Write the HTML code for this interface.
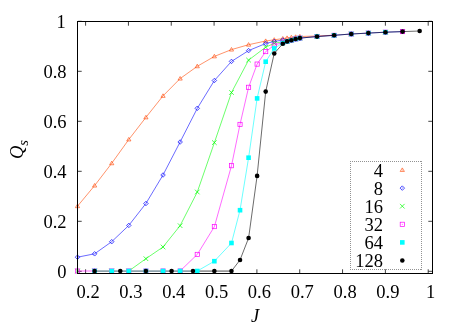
<!DOCTYPE html>
<html><head><meta charset="utf-8"><style>
html,body{margin:0;padding:0;background:#fff;}
body{width:463px;height:324px;overflow:hidden;position:relative;font-family:"Liberation Serif",serif;}
svg{position:absolute;left:0;top:0;will-change:transform;}
text{font-family:"Liberation Serif",serif;font-size:18.5px;fill:#000;}
</style></head><body>
<svg width="463" height="324" viewBox="0 0 463 324">
<rect width="463" height="324" fill="#fff"/>
<path d="M85.60 273V269.3M85.60 22V25.7" stroke="#000" stroke-width="1" stroke-opacity="0.75"/>
<path d="M128.43 273V269.3M128.43 22V25.7" stroke="#000" stroke-width="1" stroke-opacity="0.75"/>
<path d="M171.25 273V269.3M171.25 22V25.7" stroke="#000" stroke-width="1" stroke-opacity="0.75"/>
<path d="M214.08 273V269.3M214.08 22V25.7" stroke="#000" stroke-width="1" stroke-opacity="0.75"/>
<path d="M256.90 273V269.3M256.90 22V25.7" stroke="#000" stroke-width="1" stroke-opacity="0.75"/>
<path d="M299.73 273V269.3M299.73 22V25.7" stroke="#000" stroke-width="1" stroke-opacity="0.75"/>
<path d="M342.55 273V269.3M342.55 22V25.7" stroke="#000" stroke-width="1" stroke-opacity="0.75"/>
<path d="M385.38 273V269.3M385.38 22V25.7" stroke="#000" stroke-width="1" stroke-opacity="0.75"/>
<path d="M428.20 273V269.3M428.20 22V25.7" stroke="#000" stroke-width="1" stroke-opacity="0.75"/>
<path d="M78 271.30H81.7M432 271.30H428.3" stroke="#000" stroke-width="1" stroke-opacity="0.75"/>
<path d="M78 221.30H81.7M432 221.30H428.3" stroke="#000" stroke-width="1" stroke-opacity="0.75"/>
<path d="M78 171.30H81.7M432 171.30H428.3" stroke="#000" stroke-width="1" stroke-opacity="0.75"/>
<path d="M78 121.30H81.7M432 121.30H428.3" stroke="#000" stroke-width="1" stroke-opacity="0.75"/>
<path d="M78 71.30H81.7M432 71.30H428.3" stroke="#000" stroke-width="1" stroke-opacity="0.75"/>
<path d="M78 21.30H81.7M432 21.30H428.3" stroke="#000" stroke-width="1" stroke-opacity="0.75"/>
<polyline points="77.5,206.2 94.6,185.6 111.7,163.3 128.8,139.5 145.9,117.4 163.0,95.9 180.1,78.6 197.3,66.3 214.4,56.4 231.5,49.6 248.6,44.7 265.7,41.0 274.2,39.8 282.8,38.6 287.1,38.0 291.4,37.4 295.6,36.9 299.9,36.5 317.0,36.0 334.1,35.2" fill="none" stroke="#ff4500" stroke-width="1.0" stroke-opacity="0.58" stroke-linejoin="round"/>
<path d="M77.50 204.10L79.60 207.65L75.40 207.65Z" fill="none" stroke="#ff4500" stroke-width="0.62"/>
<path d="M94.61 183.50L96.71 187.05L92.51 187.05Z" fill="none" stroke="#ff4500" stroke-width="0.62"/>
<path d="M111.72 161.20L113.82 164.75L109.62 164.75Z" fill="none" stroke="#ff4500" stroke-width="0.62"/>
<path d="M128.82 137.40L130.92 140.95L126.72 140.95Z" fill="none" stroke="#ff4500" stroke-width="0.62"/>
<path d="M145.93 115.30L148.03 118.85L143.83 118.85Z" fill="none" stroke="#ff4500" stroke-width="0.62"/>
<path d="M163.04 93.80L165.14 97.35L160.94 97.35Z" fill="none" stroke="#ff4500" stroke-width="0.62"/>
<path d="M180.15 76.50L182.25 80.05L178.05 80.05Z" fill="none" stroke="#ff4500" stroke-width="0.62"/>
<path d="M197.26 64.20L199.36 67.75L195.16 67.75Z" fill="none" stroke="#ff4500" stroke-width="0.62"/>
<path d="M214.36 54.30L216.46 57.85L212.26 57.85Z" fill="none" stroke="#ff4500" stroke-width="0.62"/>
<path d="M231.47 47.50L233.57 51.05L229.37 51.05Z" fill="none" stroke="#ff4500" stroke-width="0.62"/>
<path d="M248.58 42.60L250.68 46.15L246.48 46.15Z" fill="none" stroke="#ff4500" stroke-width="0.62"/>
<path d="M265.69 38.90L267.79 42.45L263.59 42.45Z" fill="none" stroke="#ff4500" stroke-width="0.62"/>
<path d="M274.24 37.70L276.34 41.25L272.14 41.25Z" fill="none" stroke="#ff4500" stroke-width="0.62"/>
<path d="M282.80 36.50L284.90 40.05L280.70 40.05Z" fill="none" stroke="#ff4500" stroke-width="0.62"/>
<path d="M287.07 35.90L289.17 39.45L284.97 39.45Z" fill="none" stroke="#ff4500" stroke-width="0.62"/>
<path d="M291.35 35.30L293.45 38.85L289.25 38.85Z" fill="none" stroke="#ff4500" stroke-width="0.62"/>
<path d="M295.63 34.80L297.73 38.35L293.53 38.35Z" fill="none" stroke="#ff4500" stroke-width="0.62"/>
<path d="M299.90 34.40L302.00 37.95L297.80 37.95Z" fill="none" stroke="#ff4500" stroke-width="0.62"/>
<path d="M317.01 33.90L319.11 37.45L314.91 37.45Z" fill="none" stroke="#ff4500" stroke-width="0.62"/>
<path d="M334.12 33.10L336.22 36.65L332.02 36.65Z" fill="none" stroke="#ff4500" stroke-width="0.62"/>
<path d="M351.23 31.90L353.33 35.45L349.13 35.45Z" fill="none" stroke="#ff4500" stroke-width="0.62"/>
<path d="M368.34 31.00L370.44 34.55L366.24 34.55Z" fill="none" stroke="#ff4500" stroke-width="0.62"/>
<path d="M385.44 30.10L387.54 33.65L383.34 33.65Z" fill="none" stroke="#ff4500" stroke-width="0.62"/>
<path d="M402.55 29.50L404.65 33.05L400.45 33.05Z" fill="none" stroke="#ff4500" stroke-width="0.62"/>
<polyline points="77.5,257.2 94.6,253.8 111.7,241.7 128.8,225.4 145.9,203.5 163.0,175.0 180.1,142.0 197.3,108.3 214.4,80.5 231.5,61.4 248.6,50.6 265.7,43.5 274.2,41.5 282.8,40.0 287.1,41.4 291.4,40.2 295.6,39.0 299.9,38.1 317.0,36.5 334.1,35.3 351.2,34.0 368.3,33.1 385.4,32.2 402.6,31.6" fill="none" stroke="#0000ff" stroke-width="1.0" stroke-opacity="0.58" stroke-linejoin="round"/>
<path d="M77.50 254.95L79.75 257.20L77.50 259.45L75.25 257.20Z" fill="none" stroke="#0000ff" stroke-width="0.7"/>
<path d="M94.61 251.55L96.86 253.80L94.61 256.05L92.36 253.80Z" fill="none" stroke="#0000ff" stroke-width="0.7"/>
<path d="M111.72 239.45L113.97 241.70L111.72 243.95L109.47 241.70Z" fill="none" stroke="#0000ff" stroke-width="0.7"/>
<path d="M128.82 223.15L131.07 225.40L128.82 227.65L126.57 225.40Z" fill="none" stroke="#0000ff" stroke-width="0.7"/>
<path d="M145.93 201.25L148.18 203.50L145.93 205.75L143.68 203.50Z" fill="none" stroke="#0000ff" stroke-width="0.7"/>
<path d="M163.04 172.75L165.29 175.00L163.04 177.25L160.79 175.00Z" fill="none" stroke="#0000ff" stroke-width="0.7"/>
<path d="M180.15 139.75L182.40 142.00L180.15 144.25L177.90 142.00Z" fill="none" stroke="#0000ff" stroke-width="0.7"/>
<path d="M197.26 106.05L199.51 108.30L197.26 110.55L195.01 108.30Z" fill="none" stroke="#0000ff" stroke-width="0.7"/>
<path d="M214.36 78.25L216.61 80.50L214.36 82.75L212.11 80.50Z" fill="none" stroke="#0000ff" stroke-width="0.7"/>
<path d="M231.47 59.15L233.72 61.40L231.47 63.65L229.22 61.40Z" fill="none" stroke="#0000ff" stroke-width="0.7"/>
<path d="M248.58 48.35L250.83 50.60L248.58 52.85L246.33 50.60Z" fill="none" stroke="#0000ff" stroke-width="0.7"/>
<path d="M265.69 41.25L267.94 43.50L265.69 45.75L263.44 43.50Z" fill="none" stroke="#0000ff" stroke-width="0.7"/>
<path d="M274.24 39.25L276.49 41.50L274.24 43.75L271.99 41.50Z" fill="none" stroke="#0000ff" stroke-width="0.7"/>
<path d="M282.80 37.75L285.05 40.00L282.80 42.25L280.55 40.00Z" fill="none" stroke="#0000ff" stroke-width="0.7"/>
<path d="M287.07 39.15L289.32 41.40L287.07 43.65L284.82 41.40Z" fill="none" stroke="#0000ff" stroke-width="0.7"/>
<path d="M291.35 37.95L293.60 40.20L291.35 42.45L289.10 40.20Z" fill="none" stroke="#0000ff" stroke-width="0.7"/>
<path d="M295.63 36.75L297.88 39.00L295.63 41.25L293.38 39.00Z" fill="none" stroke="#0000ff" stroke-width="0.7"/>
<path d="M299.90 35.85L302.15 38.10L299.90 40.35L297.65 38.10Z" fill="none" stroke="#0000ff" stroke-width="0.7"/>
<path d="M317.01 34.25L319.26 36.50L317.01 38.75L314.76 36.50Z" fill="none" stroke="#0000ff" stroke-width="0.7"/>
<path d="M334.12 33.05L336.37 35.30L334.12 37.55L331.87 35.30Z" fill="none" stroke="#0000ff" stroke-width="0.7"/>
<path d="M351.23 31.75L353.48 34.00L351.23 36.25L348.98 34.00Z" fill="none" stroke="#0000ff" stroke-width="0.7"/>
<path d="M368.34 30.85L370.59 33.10L368.34 35.35L366.09 33.10Z" fill="none" stroke="#0000ff" stroke-width="0.7"/>
<path d="M385.44 29.95L387.69 32.20L385.44 34.45L383.19 32.20Z" fill="none" stroke="#0000ff" stroke-width="0.7"/>
<path d="M402.55 29.35L404.80 31.60L402.55 33.85L400.30 31.60Z" fill="none" stroke="#0000ff" stroke-width="0.7"/>
<polyline points="128.8,271.0 145.9,258.7 163.0,247.0 180.1,225.7 197.3,192.0 214.4,142.6 231.5,92.5 248.6,60.1 265.7,47.2 274.2,43.3 282.8,41.8 287.1,41.4 291.4,40.2 295.6,39.0 299.9,38.1" fill="none" stroke="#00ff00" stroke-width="1.0" stroke-opacity="0.58" stroke-linejoin="round"/>
<path d="M75.20 268.70L79.80 273.30M75.20 273.30L79.80 268.70" fill="none" stroke="#00ff00" stroke-width="0.7"/>
<path d="M92.31 268.70L96.91 273.30M92.31 273.30L96.91 268.70" fill="none" stroke="#00ff00" stroke-width="0.7"/>
<path d="M109.42 268.70L114.02 273.30M109.42 273.30L114.02 268.70" fill="none" stroke="#00ff00" stroke-width="0.7"/>
<path d="M126.52 268.70L131.12 273.30M126.52 273.30L131.12 268.70" fill="none" stroke="#00ff00" stroke-width="0.7"/>
<path d="M143.63 256.40L148.23 261.00M143.63 261.00L148.23 256.40" fill="none" stroke="#00ff00" stroke-width="0.7"/>
<path d="M160.74 244.70L165.34 249.30M160.74 249.30L165.34 244.70" fill="none" stroke="#00ff00" stroke-width="0.7"/>
<path d="M177.85 223.40L182.45 228.00M177.85 228.00L182.45 223.40" fill="none" stroke="#00ff00" stroke-width="0.7"/>
<path d="M194.96 189.70L199.56 194.30M194.96 194.30L199.56 189.70" fill="none" stroke="#00ff00" stroke-width="0.7"/>
<path d="M212.06 140.30L216.66 144.90M212.06 144.90L216.66 140.30" fill="none" stroke="#00ff00" stroke-width="0.7"/>
<path d="M229.17 90.20L233.77 94.80M229.17 94.80L233.77 90.20" fill="none" stroke="#00ff00" stroke-width="0.7"/>
<path d="M246.28 57.80L250.88 62.40M246.28 62.40L250.88 57.80" fill="none" stroke="#00ff00" stroke-width="0.7"/>
<path d="M263.39 44.90L267.99 49.50M263.39 49.50L267.99 44.90" fill="none" stroke="#00ff00" stroke-width="0.7"/>
<path d="M271.94 41.00L276.54 45.60M271.94 45.60L276.54 41.00" fill="none" stroke="#00ff00" stroke-width="0.7"/>
<path d="M280.50 39.50L285.10 44.10M280.50 44.10L285.10 39.50" fill="none" stroke="#00ff00" stroke-width="0.7"/>
<path d="M284.77 39.10L289.37 43.70M284.77 43.70L289.37 39.10" fill="none" stroke="#00ff00" stroke-width="0.7"/>
<path d="M289.05 37.90L293.65 42.50M289.05 42.50L293.65 37.90" fill="none" stroke="#00ff00" stroke-width="0.7"/>
<path d="M293.33 36.70L297.93 41.30M293.33 41.30L297.93 36.70" fill="none" stroke="#00ff00" stroke-width="0.7"/>
<path d="M297.60 35.80L302.20 40.40M297.60 40.40L302.20 35.80" fill="none" stroke="#00ff00" stroke-width="0.7"/>
<path d="M314.71 34.20L319.31 38.80M314.71 38.80L319.31 34.20" fill="none" stroke="#00ff00" stroke-width="0.7"/>
<path d="M331.82 33.00L336.42 37.60M331.82 37.60L336.42 33.00" fill="none" stroke="#00ff00" stroke-width="0.7"/>
<path d="M348.93 31.70L353.53 36.30M348.93 36.30L353.53 31.70" fill="none" stroke="#00ff00" stroke-width="0.7"/>
<path d="M366.04 30.80L370.64 35.40M366.04 35.40L370.64 30.80" fill="none" stroke="#00ff00" stroke-width="0.7"/>
<path d="M383.14 29.90L387.74 34.50M383.14 34.50L387.74 29.90" fill="none" stroke="#00ff00" stroke-width="0.7"/>
<path d="M400.25 29.30L404.85 33.90M400.25 33.90L404.85 29.30" fill="none" stroke="#00ff00" stroke-width="0.7"/>
<path d="M77.5 271H94.6" stroke="#ff00ff" stroke-width="1.0" stroke-opacity="0.58"/>
<polyline points="180.1,271.0 197.3,254.4 214.4,226.6 231.5,165.7 240.0,124.4 248.6,87.3 257.1,64.1 265.7,51.6 274.2,45.3 282.8,42.3 287.1,41.4 291.4,40.2 295.6,39.0 299.9,38.1" fill="none" stroke="#ff00ff" stroke-width="1.0" stroke-opacity="0.58" stroke-linejoin="round"/>
<rect x="75.40" y="268.90" width="4.20" height="4.20" fill="none" stroke="#ff00ff" stroke-width="0.7"/>
<rect x="92.51" y="268.90" width="4.20" height="4.20" fill="none" stroke="#ff00ff" stroke-width="0.7"/>
<rect x="109.62" y="268.90" width="4.20" height="4.20" fill="none" stroke="#ff00ff" stroke-width="0.7"/>
<rect x="126.72" y="268.90" width="4.20" height="4.20" fill="none" stroke="#ff00ff" stroke-width="0.7"/>
<rect x="143.83" y="268.90" width="4.20" height="4.20" fill="none" stroke="#ff00ff" stroke-width="0.7"/>
<rect x="160.94" y="268.90" width="4.20" height="4.20" fill="none" stroke="#ff00ff" stroke-width="0.7"/>
<rect x="178.05" y="268.90" width="4.20" height="4.20" fill="none" stroke="#ff00ff" stroke-width="0.7"/>
<rect x="195.16" y="252.30" width="4.20" height="4.20" fill="none" stroke="#ff00ff" stroke-width="0.7"/>
<rect x="212.26" y="224.50" width="4.20" height="4.20" fill="none" stroke="#ff00ff" stroke-width="0.7"/>
<rect x="229.37" y="163.60" width="4.20" height="4.20" fill="none" stroke="#ff00ff" stroke-width="0.7"/>
<rect x="237.93" y="122.30" width="4.20" height="4.20" fill="none" stroke="#ff00ff" stroke-width="0.7"/>
<rect x="246.48" y="85.20" width="4.20" height="4.20" fill="none" stroke="#ff00ff" stroke-width="0.7"/>
<rect x="255.03" y="62.00" width="4.20" height="4.20" fill="none" stroke="#ff00ff" stroke-width="0.7"/>
<rect x="263.59" y="49.50" width="4.20" height="4.20" fill="none" stroke="#ff00ff" stroke-width="0.7"/>
<rect x="272.14" y="43.20" width="4.20" height="4.20" fill="none" stroke="#ff00ff" stroke-width="0.7"/>
<rect x="280.70" y="40.20" width="4.20" height="4.20" fill="none" stroke="#ff00ff" stroke-width="0.7"/>
<rect x="284.97" y="39.30" width="4.20" height="4.20" fill="none" stroke="#ff00ff" stroke-width="0.7"/>
<rect x="289.25" y="38.10" width="4.20" height="4.20" fill="none" stroke="#ff00ff" stroke-width="0.7"/>
<rect x="293.53" y="36.90" width="4.20" height="4.20" fill="none" stroke="#ff00ff" stroke-width="0.7"/>
<rect x="297.80" y="36.00" width="4.20" height="4.20" fill="none" stroke="#ff00ff" stroke-width="0.7"/>
<rect x="314.91" y="34.40" width="4.20" height="4.20" fill="none" stroke="#ff00ff" stroke-width="0.7"/>
<rect x="332.02" y="33.20" width="4.20" height="4.20" fill="none" stroke="#ff00ff" stroke-width="0.7"/>
<rect x="349.13" y="31.90" width="4.20" height="4.20" fill="none" stroke="#ff00ff" stroke-width="0.7"/>
<rect x="366.24" y="31.00" width="4.20" height="4.20" fill="none" stroke="#ff00ff" stroke-width="0.7"/>
<rect x="383.34" y="30.10" width="4.20" height="4.20" fill="none" stroke="#ff00ff" stroke-width="0.7"/>
<rect x="400.45" y="29.50" width="4.20" height="4.20" fill="none" stroke="#ff00ff" stroke-width="0.7"/>
<path d="M94.6 271.2H197.3" stroke="#8fa3ad" stroke-width="1.7"/>
<path d="M197.3 271.2H231.5" stroke="#999" stroke-width="1.7"/>
<polyline points="197.3,271.0 214.4,261.2 231.5,243.0 240.0,210.2 248.6,157.7 257.1,98.4 265.7,61.7 274.2,48.4 282.8,43.0 287.1,41.4 291.4,40.2 295.6,39.0 299.9,38.1" fill="none" stroke="#00ffff" stroke-width="1.0" stroke-opacity="0.58" stroke-linejoin="round"/>
<rect x="92.31" y="268.70" width="4.60" height="4.60" fill="#00ffff"/>
<rect x="109.42" y="268.70" width="4.60" height="4.60" fill="#00ffff"/>
<rect x="126.52" y="268.70" width="4.60" height="4.60" fill="#00ffff"/>
<rect x="143.63" y="268.70" width="4.60" height="4.60" fill="#00ffff"/>
<rect x="160.74" y="268.70" width="4.60" height="4.60" fill="#00ffff"/>
<rect x="177.85" y="268.70" width="4.60" height="4.60" fill="#00ffff"/>
<rect x="194.96" y="268.70" width="4.60" height="4.60" fill="#00ffff"/>
<rect x="212.06" y="258.90" width="4.60" height="4.60" fill="#00ffff"/>
<rect x="229.17" y="240.70" width="4.60" height="4.60" fill="#00ffff"/>
<rect x="237.73" y="207.90" width="4.60" height="4.60" fill="#00ffff"/>
<rect x="246.28" y="155.40" width="4.60" height="4.60" fill="#00ffff"/>
<rect x="254.83" y="96.10" width="4.60" height="4.60" fill="#00ffff"/>
<rect x="263.39" y="59.40" width="4.60" height="4.60" fill="#00ffff"/>
<rect x="271.94" y="46.10" width="4.60" height="4.60" fill="#00ffff"/>
<rect x="280.50" y="40.70" width="4.60" height="4.60" fill="#00ffff"/>
<rect x="284.77" y="39.10" width="4.60" height="4.60" fill="#00ffff"/>
<rect x="289.05" y="37.90" width="4.60" height="4.60" fill="#00ffff"/>
<rect x="293.33" y="36.70" width="4.60" height="4.60" fill="#00ffff"/>
<rect x="297.60" y="35.80" width="4.60" height="4.60" fill="#00ffff"/>
<rect x="314.71" y="34.20" width="4.60" height="4.60" fill="#00ffff"/>
<rect x="331.82" y="33.00" width="4.60" height="4.60" fill="#00ffff"/>
<rect x="348.93" y="31.70" width="4.60" height="4.60" fill="#00ffff"/>
<rect x="366.04" y="30.80" width="4.60" height="4.60" fill="#00ffff"/>
<rect x="383.14" y="29.90" width="4.60" height="4.60" fill="#00ffff"/>
<polyline points="231.5,271.0 240.0,260.0 248.6,238.0 257.1,175.9 265.7,91.6 274.2,53.5 282.8,43.7 287.1,41.4 291.4,40.2 295.6,39.0 299.9,38.1 317.0,36.6 334.1,35.3 351.2,34.0 368.3,33.1 385.4,32.2 402.6,31.6 419.7,31.0" fill="none" stroke="#000" stroke-width="1.0" stroke-opacity="0.58" stroke-linejoin="round"/>
<circle cx="94.61" cy="271.00" r="2.3" fill="#000"/>
<circle cx="120.27" cy="271.00" r="2.3" fill="#000"/>
<circle cx="145.93" cy="271.00" r="2.3" fill="#000"/>
<circle cx="171.59" cy="271.00" r="2.3" fill="#000"/>
<circle cx="192.98" cy="271.00" r="2.3" fill="#000"/>
<circle cx="214.36" cy="271.00" r="2.3" fill="#000"/>
<circle cx="231.47" cy="271.00" r="2.3" fill="#000"/>
<circle cx="240.03" cy="260.00" r="2.3" fill="#000"/>
<circle cx="248.58" cy="238.00" r="2.3" fill="#000"/>
<circle cx="257.13" cy="175.90" r="2.3" fill="#000"/>
<circle cx="265.69" cy="91.60" r="2.3" fill="#000"/>
<circle cx="274.24" cy="53.50" r="2.3" fill="#000"/>
<circle cx="282.80" cy="43.70" r="2.3" fill="#000"/>
<circle cx="287.07" cy="41.40" r="2.3" fill="#000"/>
<circle cx="291.35" cy="40.20" r="2.3" fill="#000"/>
<circle cx="295.63" cy="39.00" r="2.3" fill="#000"/>
<circle cx="299.90" cy="38.10" r="2.3" fill="#000"/>
<circle cx="317.01" cy="36.60" r="2.3" fill="#000"/>
<circle cx="334.12" cy="35.30" r="2.3" fill="#000"/>
<circle cx="351.23" cy="34.00" r="2.3" fill="#000"/>
<circle cx="368.34" cy="33.10" r="2.3" fill="#000"/>
<circle cx="385.44" cy="32.20" r="2.3" fill="#000"/>
<circle cx="402.55" cy="31.60" r="2.3" fill="#000"/>
<circle cx="419.66" cy="31.00" r="2.3" fill="#000"/>
<rect x="77.5" y="21.5" width="355" height="252" fill="none" stroke="#000" stroke-width="1"/>
<text x="88.1" y="297.7" text-anchor="middle">0.2</text>
<text x="130.9" y="297.7" text-anchor="middle">0.3</text>
<text x="173.8" y="297.7" text-anchor="middle">0.4</text>
<text x="216.6" y="297.7" text-anchor="middle">0.5</text>
<text x="259.4" y="297.7" text-anchor="middle">0.6</text>
<text x="302.2" y="297.7" text-anchor="middle">0.7</text>
<text x="345.1" y="297.7" text-anchor="middle">0.8</text>
<text x="387.9" y="297.7" text-anchor="middle">0.9</text>
<text x="430.7" y="297.7" text-anchor="middle">1</text>
<text x="66.5" y="277.6" text-anchor="end">0</text>
<text x="66.5" y="227.6" text-anchor="end">0.2</text>
<text x="66.5" y="177.6" text-anchor="end">0.4</text>
<text x="66.5" y="127.6" text-anchor="end">0.6</text>
<text x="66.5" y="77.6" text-anchor="end">0.8</text>
<text x="65.8" y="27.6" text-anchor="end">1</text>
<text x="255.1" y="322.0" text-anchor="middle" font-style="italic">J</text>
<text transform="translate(23,149.6) rotate(-90)" text-anchor="middle" font-style="italic">Q<tspan font-size="14.5" dy="5">s</tspan></text>
<path d="M350 161.5H422M350 269.5H422" stroke="#929292" stroke-width="1" stroke-dasharray="1 1" fill="none"/>
<path d="M350.5 161V270M421.5 161V270" stroke="#929292" stroke-width="1" stroke-dasharray="1 1" fill="none"/>
<text x="383" y="176.9" text-anchor="end">4</text>
<path d="M402.30 167.90L404.40 171.45L400.20 171.45Z" fill="none" stroke="#ff4500" stroke-width="0.62"/>
<circle cx="402.3" cy="170.0" r="0.5" fill="#ff4500" fill-opacity="0.7"/>
<text x="383" y="195.0" text-anchor="end">8</text>
<path d="M402.30 185.85L404.55 188.10L402.30 190.35L400.05 188.10Z" fill="none" stroke="#0000ff" stroke-width="0.7"/>
<circle cx="402.3" cy="188.1" r="0.5" fill="#0000ff" fill-opacity="0.7"/>
<text x="383" y="213.1" text-anchor="end">16</text>
<path d="M400.00 203.90L404.60 208.50M400.00 208.50L404.60 203.90" fill="none" stroke="#00ff00" stroke-width="0.7"/>
<text x="383" y="231.2" text-anchor="end">32</text>
<rect x="400.20" y="222.20" width="4.20" height="4.20" fill="none" stroke="#ff00ff" stroke-width="0.7"/>
<circle cx="402.3" cy="224.3" r="0.5" fill="#ff00ff" fill-opacity="0.7"/>
<text x="383" y="249.3" text-anchor="end">64</text>
<rect x="400.00" y="240.10" width="4.60" height="4.60" fill="#00ffff"/>
<text x="383" y="267.4" text-anchor="end">128</text>
<circle cx="402.30" cy="260.50" r="2.3" fill="#000"/>
</svg></body></html>
